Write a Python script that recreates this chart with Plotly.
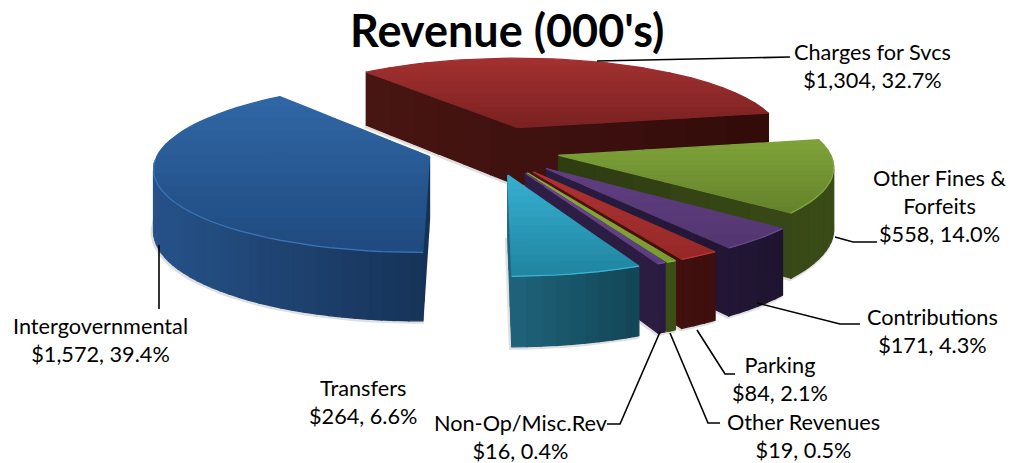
import math
import plotly.graph_objects as go

# ---- data ----
categories = ["Charges for Svcs", "Other Fines &<br>Forfeits", "Contributions", "Parking",
              "Other Revenues", "Non-Op/Misc.Rev", "Transfers", "Intergovernmental"]
values = [1304, 558, 171, 84, 19, 16, 264, 1572]
percents = ["32.7%", "14.0%", "4.3%", "2.1%", "0.5%", "0.4%", "6.6%", "39.4%"]
title_text = "Revenue (000's)"

# ---- styling / camera configuration ----
first_angle = -38.7
explode = [0.30, 0.26, 0.30, 0.30, 0.30, 0.30, 0.30, 0.235]
top_colors = [("#A33131", "#7C2121"), ("#7FA339", "#64822C"), ("#613F82", "#533670"),
              ("#B03333", "#962828"), ("#8EAE3B", "#7A9A33"), ("#6C4892", "#5C3D80"),
              ("#37B0D2", "#1F84A0"), ("#3067A6", "#1F4A7F")]
wall_colors = [("#481512", "#320C0A"), ("#2E3C12", "#3A4C17"), ("#2B1C40", "#1F1430"),
               ("#501311", "#3D0F0E"), ("#3C4F16", "#3C4F16"), ("#2F1F47", "#2A1B40"),
               ("#1F647B", "#124555"), ("#265289", "#163257")]
rim_colors = ["#A83838", "#85A63F", "#6A4A8C", "#B53A3A", "#90B040", "#7050A0", "#3FB4D4", "#3B76B8"]
draw_order = [0, 7, 1, 2, 3, 4, 5, 6]
F, D, CX, HORIZON, A, WALL = 2270.0, 8.4, 503.0, -544.0, 5830.0, 1.086
X0, T0 = -0.048, 0.0
label_pos = [(872, 66), (940, 206), (932, 331), (780, 379), (803, 436), (520, 437), (363, 402), (100, 340)]
leaders = [[(597, 61), (790, 57)], [(835, 237), (853, 242), (877, 242)],
           [(757, 303), (840, 324), (860, 324)], [(697, 330), (725, 374), (735, 374)],
           [(670, 333), (708, 423), (720, 423)], [(660, 332), (620, 424), (607, 424)],
           [(159, 245), (159, 309)]]


def proj(X, t, bottom=False):
    w = D + t
    return (CX + F * X / w, HORIZON + (A * WALL if bottom else A) / w)


def hex_rgb(c):
    return tuple(int(c[i:i + 2], 16) for i in (1, 3, 5))


def mix(c1, c2, f):
    f = max(0.0, min(1.0, f))
    a, b = hex_rgb(c1), hex_rgb(c2)
    return "rgb(%d,%d,%d)" % tuple(round(a[i] + (b[i] - a[i]) * f) for i in range(3))


def clip_y(poly, y0, y1):
    def clip(pts, keep, cross):
        out = []
        for i, p in enumerate(pts):
            q = pts[(i + 1) % len(pts)]
            if keep(p):
                out.append(p)
            if keep(p) != keep(q):
                f = (cross - p[1]) / (q[1] - p[1])
                out.append((p[0] + (q[0] - p[0]) * f, cross))
        return out
    r = clip(poly, lambda p: p[1] >= y0, y0)
    return clip(r, lambda p: p[1] <= y1, y1) if r else r


fig = go.Figure()


def polygon(pts, color, lw=1.3):
    fig.add_trace(go.Scatter(x=[p[0] for p in pts] + [pts[0][0]], y=[p[1] for p in pts] + [pts[0][1]],
                             mode="lines", fill="toself", fillcolor=color,
                             line=dict(color=color, width=lw),
                             hoverinfo="skip", showlegend=False))


total = sum(values)
angles = [first_angle]
for v in values:
    angles.append(angles[-1] + 360.0 * v / total)

for idx in draw_order:
    a0, a1 = math.radians(angles[idx]), math.radians(angles[idx + 1])
    mid = (a0 + a1) / 2
    ax, at = X0 + explode[idx] * math.sin(mid), T0 + explode[idx] * math.cos(mid)
    n = max(3, int(math.degrees(a1 - a0) / 2.5))
    rim_angles = [a0 + (a1 - a0) * i / n for i in range(n + 1)]
    rim = [(ax + math.sin(a), at + math.cos(a)) for a in rim_angles]
    first = rim[0]
    last = rim[-1]
    spokes_in = [(ax + (first[0] - ax) * i / 6, at + (first[1] - at) * i / 6) for i in range(6)]
    spokes_out = [(last[0] + (ax - last[0]) * i / 6, last[1] + (at - last[1]) * i / 6) for i in range(1, 6)]
    perimeter = spokes_in + rim + spokes_out
    top = [proj(*p) for p in perimeter]
    bot = [proj(*p, True) for p in perimeter]

    # soft shadow beneath the solid
    fig.add_trace(go.Scatter(x=[p[0] - 1 for p in bot] + [bot[0][0] - 1], y=[p[1] + 1 for p in bot] + [bot[0][1] + 1],
                             mode="lines", line=dict(color="rgba(110,110,110,0.22)", width=4),
                             hoverinfo="skip", showlegend=False))

    xs = [p[0] for p in top]
    xmin, xmax = min(xs), max(xs)
    for i in range(len(perimeter)):
        j = (i + 1) % len(perimeter)
        quad = [top[i], top[j], bot[j], bot[i]]
        area = sum(quad[k][0] * quad[(k + 1) % 4][1] - quad[(k + 1) % 4][0] * quad[k][1] for k in range(4))
        if area < 0:
            f = ((top[i][0] + top[j][0]) / 2 - xmin) / max(1.0, xmax - xmin)
            polygon(quad, mix(wall_colors[idx][0], wall_colors[idx][1], f))

    ys = [p[1] for p in top]
    ymin, ymax = min(ys), max(ys)
    bands = 14
    for b in range(bands):
        y0 = ymin + (ymax - ymin) * b / bands
        y1 = ymin + (ymax - ymin) * (b + 1) / bands
        piece = clip_y(top, y0, y1)
        if len(piece) >= 3:
            polygon(piece, mix(top_colors[idx][0], top_colors[idx][1], (b + 0.5) / bands))

    rim_px = [proj(*p) for p, a in zip(rim, rim_angles) if math.cos(a) < 0]
    if rim_px:
        fig.add_trace(go.Scatter(x=[p[0] for p in rim_px], y=[p[1] for p in rim_px], mode="lines",
                                 line=dict(color=rim_colors[idx], width=1.2), hoverinfo="skip", showlegend=False))

for path in leaders:
    fig.add_trace(go.Scatter(x=[p[0] for p in path], y=[p[1] for p in path], mode="lines",
                             line=dict(color="#000000", width=1.6), hoverinfo="skip", showlegend=False))

annotations = [dict(x=507, y=30, text="<b>%s</b>" % title_text, showarrow=False, xref="x", yref="y",
                    font=dict(family="Lato", size=45, color="#000000"))]
for c, v, p, (lx, ly) in zip(categories, values, percents, label_pos):
    annotations.append(dict(x=lx, y=ly, text="%s<br>$%s, %s" % (c, format(v, ","), p), showarrow=False,
                            xref="x", yref="y", align="center",
                            font=dict(family="Lato", size=21.7, color="#000000")))

fig.update_layout(width=1010, height=463, margin=dict(l=0, r=0, t=0, b=0),
                  paper_bgcolor="#FFFFFF", plot_bgcolor="#FFFFFF", annotations=annotations,
                  xaxis=dict(range=[0, 1010], visible=False, fixedrange=True),
                  yaxis=dict(range=[463, 0], visible=False, fixedrange=True))
fig.write_html("out.html", config=dict(displayModeBar=False), post_script="document.body.style.margin='0';")
